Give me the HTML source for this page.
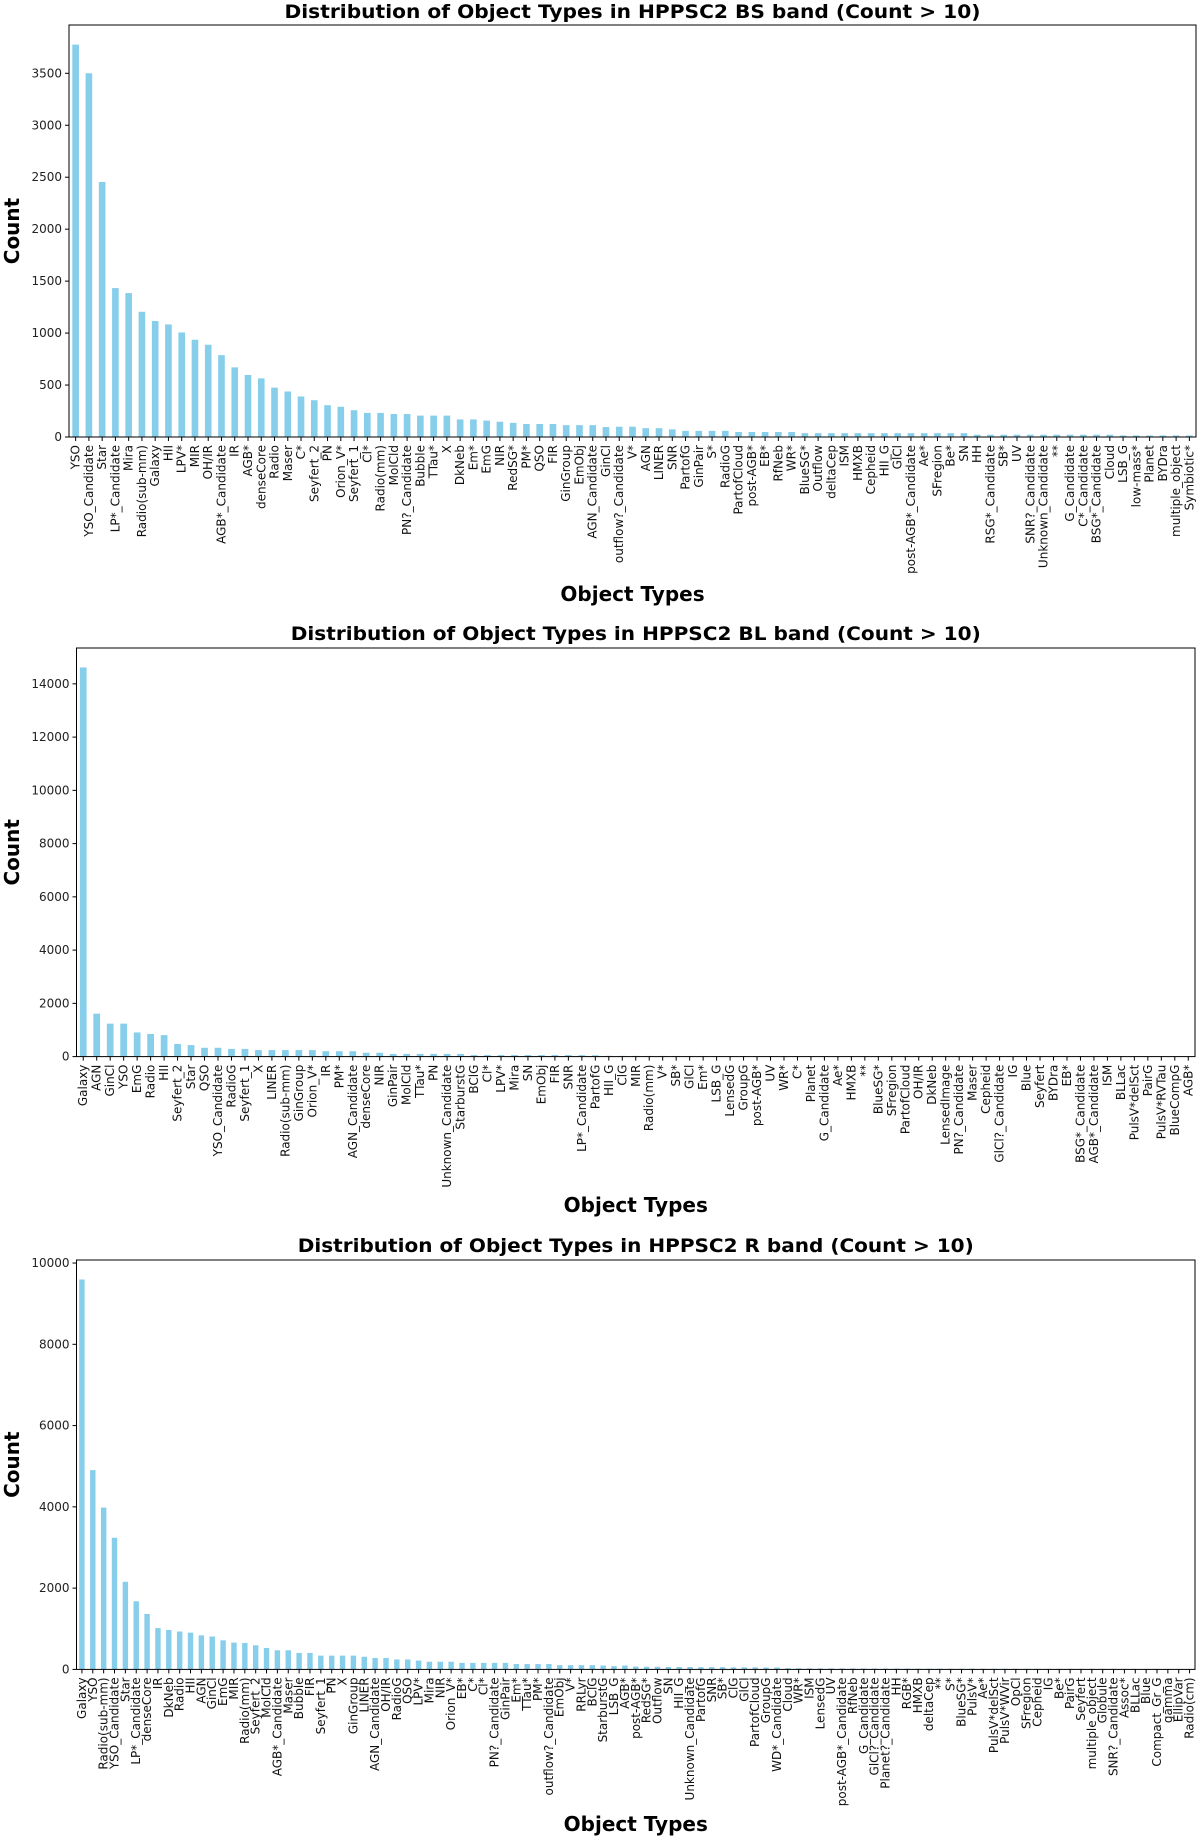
<!DOCTYPE html>
<html><head><meta charset="utf-8"><style>
html,body{margin:0;padding:0;background:#fff;}
svg{display:block;font-family:"DejaVu Sans","Liberation Sans",sans-serif;}
</style></head><body>
<svg id="root" width="1200" height="1840" viewBox="0 0 1200 1840"></svg>
<script>
const bsCategories=["YSO","YSO_Candidate","Star","LP*_Candidate","Mira","Radio(sub-mm)","Galaxy","HII","LPV*","MIR","OH/IR","AGB*_Candidate","IR","AGB*","denseCore","Radio","Maser","C*","Seyfert_2","PN","Orion_V*","Seyfert_1","Cl*","Radio(mm)","MolCld","PN?_Candidate","Bubble","TTau*","X","DkNeb","Em*","EmG","NIR","RedSG*","PM*","QSO","FIR","GinGroup","EmObj","AGN_Candidate","GinCl","outflow?_Candidate","V*","AGN","LINER","SNR","PartofG","GinPair","S*","RadioG","PartofCloud","post-AGB*","EB*","RfNeb","WR*","BlueSG*","Outflow","deltaCep","ISM","HMXB","Cepheid","HII_G","GlCl","post-AGB*_Candidate","Ae*","SFregion","Be*","SN","HH","RSG*_Candidate","SB*","UV","SNR?_Candidate","Unknown_Candidate","**","G_Candidate","C*_Candidate","BSG*_Candidate","Cloud","LSB_G","low-mass*","Planet","BYDra","multiple_object","Symbiotic*"];
const bsValues=[3776,3500,2454,1433,1385,1205,1116,1083,1006,936,888,788,670,597,564,475,438,390,354,306,291,258,232,232,221,221,206,206,206,169,169,158,147,136,125,125,125,114,114,114,96,99,99,85,85,74,59,59,59,59,48,48,48,48,48,37,37,37,37,37,37,37,37,37,37,37,37,37,22,22,22,22,22,22,22,22,22,22,22,15,15,15,15,15,15];
const bsTicks=[0,500,1000,1500,2000,2500,3000,3500];

const blCategories=["Galaxy","AGN","GinCl","YSO","EmG","Radio","HII","Seyfert_2","Star","QSO","YSO_Candidate","RadioG","Seyfert_1","X","LINER","Radio(sub-mm)","GinGroup","Orion_V*","IR","PM*","AGN_Candidate","denseCore","NIR","GinPair","MolCld","TTau*","PN","Unknown_Candidate","StarburstG","BClG","Cl*","LPV*","Mira","SN","EmObj","FIR","SNR","LP*_Candidate","PartofG","HII_G","ClG","MIR","Radio(mm)","V*","SB*","GlCl","Em*","LSB_G","LensedG","GroupG","post-AGB*","UV","WR*","C*","Planet","G_Candidate","Ae*","HMXB","**","BlueSG*","SFregion","PartofCloud","OH/IR","DkNeb","LensedImage","PN?_Candidate","Maser","Cepheid","GlCl?_Candidate","IG","Blue","Seyfert","BYDra","EB*","BSG*_Candidate","AGB*_Candidate","ISM","BLLac","PulsV*delSct","PairG","PulsV*RVTau","BlueCompG","AGB*"];
const blValues=[14616,1613,1238,1238,907,850,806,475,432,331,331,288,288,245,245,245,245,245,202,202,202,144,144,101,101,101,101,101,101,58,58,58,58,58,58,58,58,55,50,30,28,28,26,26,25,25,25,20,20,20,18,18,18,18,17,17,17,17,16,16,16,16,16,15,15,15,15,14,14,14,14,13,13,13,13,12,12,12,12,12,11,11,11];
const blTicks=[0,2000,4000,6000,8000,10000,12000,14000];

const rCategories=["Galaxy","YSO","Radio(sub-mm)","YSO_Candidate","Star","LP*_Candidate","denseCore","IR","DkNeb","Radio","HII","AGN","GinCl","EmG","MIR","Radio(mm)","Seyfert_2","MolCld","AGB*_Candidate","Maser","Bubble","FIR","Seyfert_1","PN","X","GinGroup","LINER","AGN_Candidate","OH/IR","RadioG","QSO","LPV*","Mira","NIR","Orion_V*","EB*","C*","Cl*","PN?_Candidate","GinPair","Em*","TTau*","PM*","outflow?_Candidate","EmObj","V*","RRLyr","BClG","StarburstG","LSB_G","AGB*","post-AGB*","RedSG*","Outflow","SN","HII_G","Unknown_Candidate","PartofG","SNR","SB*","ClG","GlCl","PartofCloud","GroupG","WD*_Candidate","Cloud","WR*","ISM","LensedG","UV","post-AGB*_Candidate","RfNeb","G_Candidate","GlCl?_Candidate","Planet?_Candidate","HH","RGB*","HMXB","deltaCep","**","S*","BlueSG*","PulsV*","Ae*","PulsV*delSct","PulsV*WVir","OpCl","SFregion","Cepheid","IG","Be*","PairG","Seyfert","multiple_object","Globule","SNR?_Candidate","Assoc*","BLLac","Blue","Compact_Gr_G","gamma","EllipVar","Radio(cm)"];
const rValues=[9595,4904,3983,3239,2156,1676,1365,1017,970,932,904,838,810,716,659,650,593,527,471,471,405,405,339,339,339,339,311,282,282,245,245,217,188,188,188,160,160,160,160,160,132,132,132,132,104,104,104,104,95,80,95,70,65,65,60,60,60,55,55,55,50,50,50,45,45,30,28,26,25,24,23,22,21,20,20,19,19,18,18,17,17,16,16,16,15,15,15,15,14,14,14,14,13,13,13,13,12,12,12,12,12,11,11];
const rTicks=[0,2000,4000,6000,8000,10000];

const NS="http://www.w3.org/2000/svg";
const root=document.getElementById('root');
function mk(tag,attrs,parent){const e=document.createElementNS(NS,tag);for(const k in attrs)e.setAttribute(k,attrs[k]);parent.appendChild(e);return e;}

function drawChart(id,title,cats,vals,ticks,box,titleY,xlabY,titleLen){
  const g=mk('g',{},root);
  
  
  const L=box.l,R=box.r,T=box.t,B=box.b;
  const ymax=Math.max(...vals)*1.05;
  const n=cats.length, band=(R-L)/n;
  const xs=i=>L+band*(i+0.5);
  const ys=v=>B-(v/ymax)*(B-T);
  // bars
  for(let i=0;i<n;i++){
    const y=ys(vals[i]);
    const r=mk('rect',{x:xs(i)-band*0.25,y:y,width:band*0.5,height:B-y,fill:'#87ceeb'},g);
    
    
  }
  // spines
  const sp=mk('rect',{x:L,y:T,width:R-L,height:B-T,fill:'none',stroke:'#000','stroke-width':1},g);
  
  
  // y ticks
  ticks.forEach(t=>{
    const y=ys(t);
    mk('line',{x1:L-4,x2:L,y1:y,y2:y,stroke:'#000','stroke-width':1},g);
    const tx=mk('text',{x:L-7,y:y,'text-anchor':'end','dominant-baseline':'central','font-size':12,fill:'#222'},g);
    tx.textContent=t;
    
    
  });
  // x ticks
  for(let i=0;i<n;i++){
    const x=xs(i);
    mk('line',{x1:x,x2:x,y1:B,y2:B+4,stroke:'#000','stroke-width':1},g);
    const tx=mk('text',{x:0,y:0,transform:'translate('+x+','+(B+8)+') rotate(-90)','text-anchor':'end','dominant-baseline':'central','font-size':12,fill:'#111'},g);
    tx.textContent=cats[i];
    
    
  }
  const ti=mk('text',{x:(L+R)/2,y:titleY,'text-anchor':'middle','dominant-baseline':'central','font-size':19,'font-weight':'bold',textLength:titleLen,lengthAdjust:'spacingAndGlyphs'},g);
  ti.textContent=title;
  
  
  const yl=mk('text',{x:0,y:0,transform:'translate(12,'+((T+B)/2)+') rotate(-90)','text-anchor':'middle','dominant-baseline':'central','font-size':20,'font-weight':'bold'},g);
  yl.textContent='Count';
  
  
  const xl=mk('text',{x:(L+R)/2,y:xlabY,'text-anchor':'middle','dominant-baseline':'central','font-size':20,'font-weight':'bold'},g);
  xl.textContent='Object Types';
  
  
}
drawChart('bs','Distribution of Object Types in HPPSC2 BS band (Count > 10)',bsCategories,bsValues,bsTicks,{l:69,r:1196,t:25,b:437},12,594,696);
drawChart('bl','Distribution of Object Types in HPPSC2 BL band (Count > 10)',blCategories,blValues,blTicks,{l:76.5,r:1195,t:648,b:1056.6},634,1205,690);
drawChart('r','Distribution of Object Types in HPPSC2 R band (Count > 10)',rCategories,rValues,rTicks,{l:76.5,r:1195,t:1260,b:1669.4},1246,1824,676);
</script>
</body></html>
